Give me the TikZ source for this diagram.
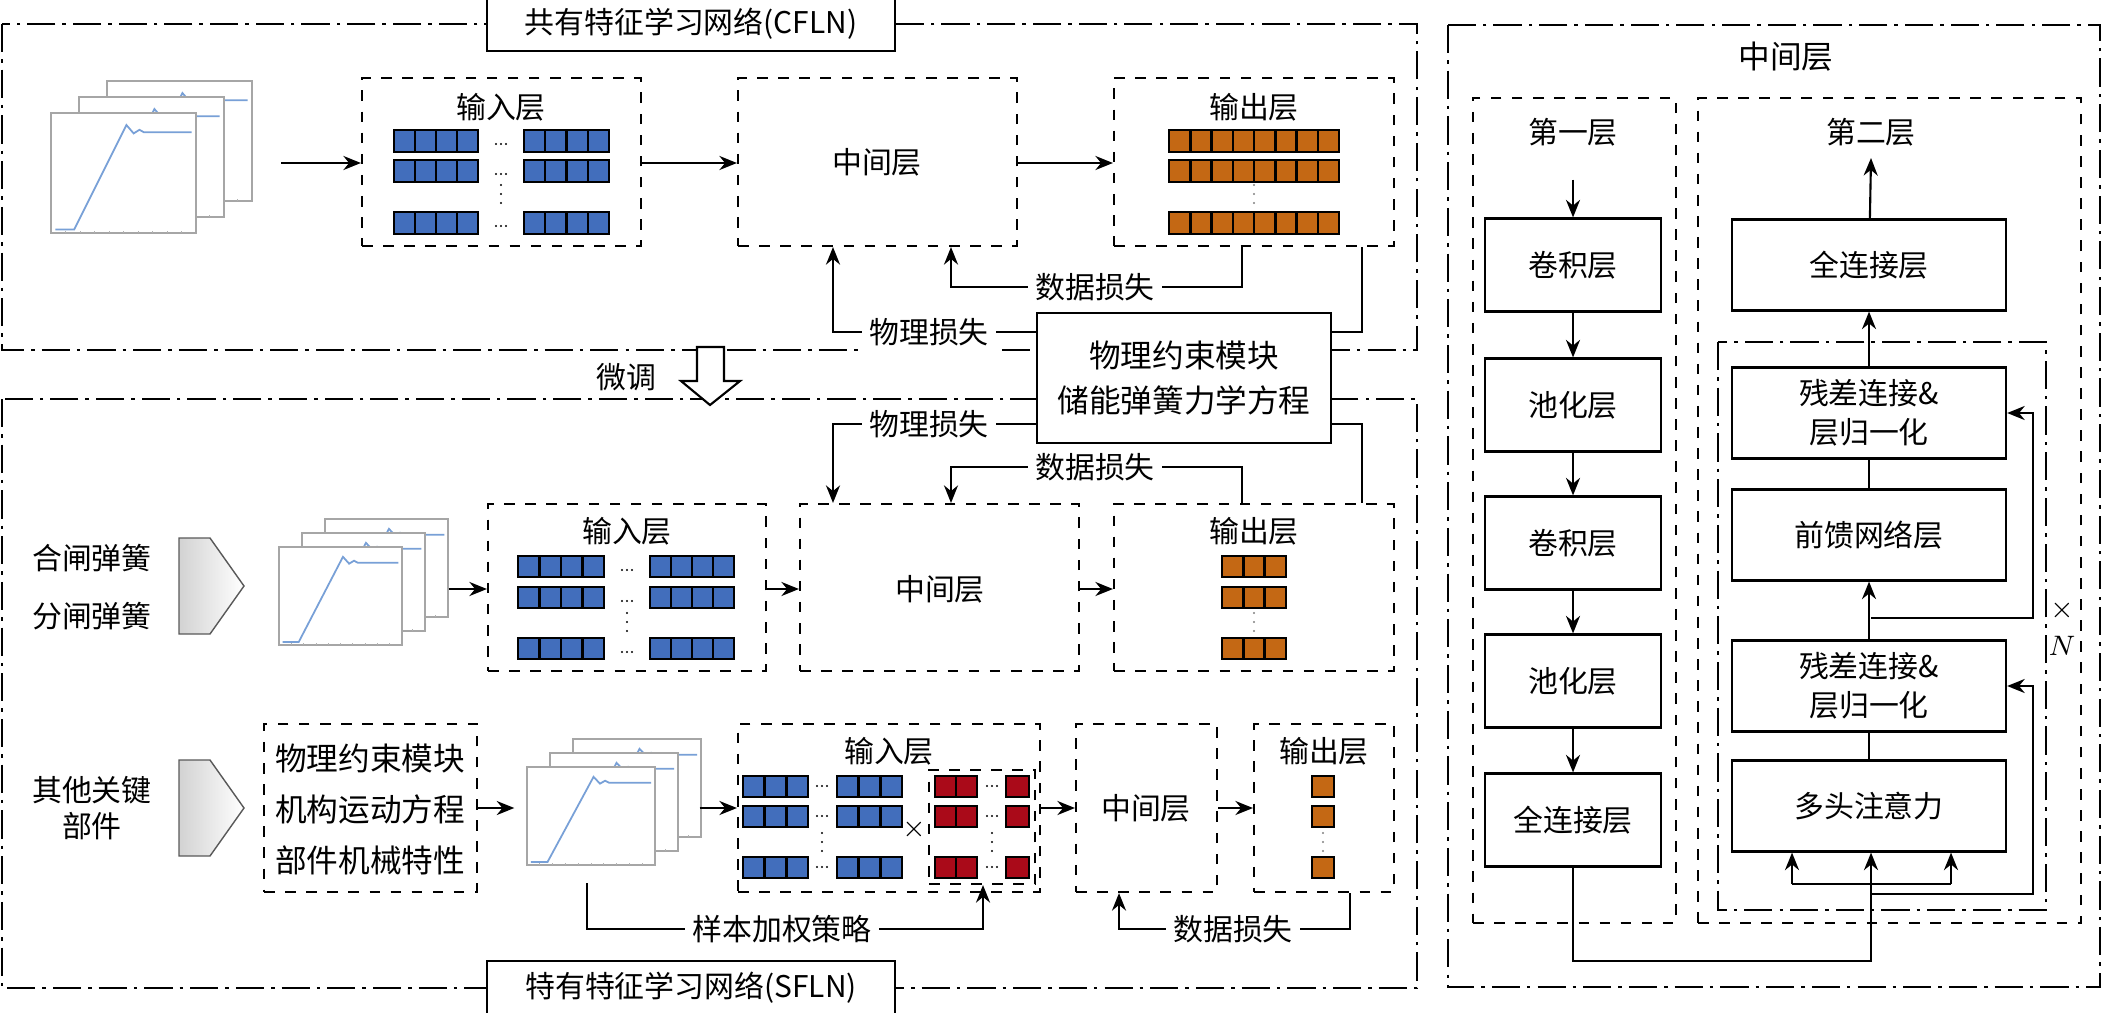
\documentclass[tikz,border=0pt]{standalone}
\usepackage{fontspec}
\setmainfont{Liberation Serif}
\newfontfamily\cjk{Noto Sans CJK SC}
\usepackage{tikz}
\usetikzlibrary{arrows.meta, positioning, fit, calc}
\definecolor{cell_blue}{RGB}{66, 110, 188}
\definecolor{cell_orange}{RGB}{196, 104, 20}
\definecolor{cell_red}{RGB}{170, 10, 25}
\definecolor{curve_blue}{RGB}{120, 160, 215}
% row of n cells: x, y(top), n, cell width, height, colour
\newcommand{\cellrow}[6]{%
  \foreach \i in {1,...,#3}
    \draw[fill=#6, line width=0.7pt] ({#1+(\i-1)*#4},#2) rectangle ++(#4,#5);}
% three small dots, across or down
\newcommand{\hdots}[2]{%
  \foreach \d in {-5,0,5} \fill ({#1+\d},#2) circle (1.1);}
\newcommand{\vdotsat}[3][black]{%
  \foreach \d in {-9,0,9} \fill[#1] (#2,{#3+\d}) circle (1.1);}
% stacked curve panels: x, y(top-left of front panel), w, h, dx, dy
\newcommand{\chartstack}[6]{%
  \foreach \k in {2,1,0}{
    \begin{scope}[shift={({#1+\k*#5},{#2-\k*#6})}, x=#3*0.01cm, y=-#4*0.01cm]
      \draw[gray!70, fill=white, line width=0.4pt] (0,0) rectangle (1,1);
      \draw[curve_blue, line width=0.5pt] (0.03,0.97) -- (0.16,0.97) -- (0.52,0.1)
        -- (0.57,0.17) -- (0.61,0.14) -- (0.64,0.16) -- (0.97,0.16);
      \foreach \t in {0.1,0.2,...,0.95}
        \draw[gray!60, line width=0.2pt] (\t,1) -- (\t,0.98);
    \end{scope}}}
\begin{document}
\begin{tikzpicture}[x=0.01cm, y=-0.01cm,
    every node/.style={font=\cjk\fontsize{8.5}{10}\selectfont},
    dbox/.style={draw, dashed, line width=0.6pt, inner sep=0pt},
    sbox/.style={draw, line width=0.6pt, fill=white, align=center},
    rbox/.style={draw, line width=0.6pt, minimum width=1.76cm, minimum height=0.93cm,
                 font=\cjk\fontsize{8.5}{11}\selectfont},
    wbox/.style={rbox, minimum width=2.74cm, minimum height=0.91cm, align=center},
    dashdot/.style={line width=0.6pt, dash pattern=on 8pt off 2pt on 1pt off 2pt},
    arr/.style={-{Stealth[length=5pt, width=4pt]}, line width=0.6pt},
    ln/.style={line width=0.6pt},
    lbl/.style={fill=white, inner sep=2pt},
  ]
  \useasboundingbox (0,0) rectangle (2107,1012);

  % frames
  \draw[dashdot] (2,24) rectangle (1417,350);
  \draw[dashdot] (2,399) rectangle (1417,988);
  \draw[dashdot] (1448,25) rectangle (2100,987);
  \node[sbox, minimum width=4.07cm, minimum height=0.46cm] (cfln) at (691,24)
    {共有特征学习网络(CFLN)};
  \node[sbox, minimum width=4.07cm, minimum height=0.46cm] (sfln) at (691,988)
    {特有特征学习网络(SFLN)};

  % ---- shared network
  \chartstack{51}{113}{145}{120}{28}{16}
  \node[fit={(41,78) (253,243)}, inner sep=0] (chart1) {};
  \node[dbox, fit={(362,78) (641,246)}] (in1) {};
  \node[dbox, fit={(738,78) (1017,246)}] (mid1) {};
  \node[dbox, fit={(1114,78) (1394,246)}] (out1) {};
  \node (in1t) at (501,107) {输入层};
  \node at (877,162) {中间层};
  \node (out1t) at (1254,107) {输出层};
  \foreach \y in {130,160,212}{
    \cellrow{394}{\y}{4}{21}{22}{cell_blue}
    \cellrow{524}{\y}{4}{21.25}{22}{cell_blue}
    \hdots{501}{\y+14}
    \cellrow{1169}{\y}{8}{21.25}{22}{cell_orange}}
  \vdotsat{501}{194}
  \vdotsat[gray]{1254}{194}
  \draw[arr] (281,163) -- (in1.west |- 0,163);
  \draw[arr] (in1.east |- 0,163) -- (mid1.west |- 0,163);
  \draw[arr] (mid1.east |- 0,163) -- (out1.west |- 0,163);

  \node[sbox, minimum width=2.93cm, minimum height=1.3cm, inner sep=1pt,
        font=\cjk\fontsize{9}{13}\selectfont] (phys) at (1184,378)
    {物理约束模块\\储能弹簧力学方程};
  \draw[arr] (out1.south -| 1242,0) |- (951,287) -- (mid1.south -| 951,0);
  \node[lbl] at (1095,287) {数据损失};
  \draw[arr] (phys.west |- 0,332) -| (mid1.south -| 833,0);
  \node[lbl] at (929,332) {物理损失};
  \draw[ln] (out1.south -| 1362,0) |- (phys.east |- 0,332);

  % fine tuning
  \draw[ln, fill=white] (697,347) -- (724,347) -- (724,381) -- (740,381)
    -- (710,405) -- (681,381) -- (697,381) -- cycle;
  \node at (626,377) {微调};

  % ---- specific network, row 1
  \draw[gray!70!black, left color=gray!35, right color=white]
    (179,538) -- (210,538) -- (244,586) -- (210,634) -- (179,634) -- cycle;
  \node (close) at (92,558) {合闸弹簧};
  \node (open) at (92,616) {分闸弹簧};
  \chartstack{279}{547}{123}{98}{23}{14}
  \node[fit={(271,519) (448,655)}, inner sep=0] (chart2) {};
  \node[dbox, fit={(488,504) (766,671)}] (in2) {};
  \node[dbox, fit={(800,504) (1079,671)}] (mid2) {};
  \node[dbox, fit={(1114,504) (1394,671)}] (out2) {};
  \node at (627,531) {输入层};
  \node at (940,589) {中间层};
  \node at (1254,531) {输出层};
  \foreach \y in {556,587,638}{
    \cellrow{518}{\y}{4}{21.5}{21}{cell_blue}
    \cellrow{650}{\y}{4}{21}{21}{cell_blue}
    \hdots{627}{\y+14}
    \cellrow{1222}{\y}{3}{21.3}{21}{cell_orange}}
  \vdotsat{627}{622}
  \vdotsat[gray]{1254}{622}
  \draw[arr] (chart2.east |- 0,589) -- (in2.west |- 0,589);
  \draw[arr] (in2.east |- 0,589) -- (mid2.west |- 0,589);
  \draw[arr] (mid2.east |- 0,589) -- (out2.west |- 0,589);

  \draw[arr] (phys.west |- 0,424) -| (mid2.north -| 833,0);
  \node[lbl] at (929,424) {物理损失};
  \draw[arr] (out2.north -| 1242,0) |- (951,467) -- (mid2.north -| 951,0);
  \node[lbl] at (1095,467) {数据损失};
  \draw[ln] (phys.east |- 0,424) -| (out2.north -| 1362,0);

  % ---- specific network, row 2
  \draw[gray!70!black, left color=gray!35, right color=white]
    (179,760) -- (210,760) -- (244,808) -- (210,856) -- (179,856) -- cycle;
  \node[align=center] (other) at (92,808) {其他关键\\部件};
  \node[dbox, fit={(264,724) (477,892)}] (phys2) {};
  \node[align=center, font=\cjk\fontsize{9}{14.5}\selectfont] at (370,809)
    {物理约束模块\\机构运动方程\\部件机械特性};
  \chartstack{527}{767}{128}{98}{23}{14}
  \node[fit={(515,738) (699,874)}, inner sep=0] (chart3) {};
  \node[dbox, fit={(738,724) (1040,892)}] (in3) {};
  \node[dbox, fit={(929,770) (1035,884)}] (red3) {};
  \node[dbox, fit={(1076,724) (1217,892)}] (mid3) {};
  \node[dbox, fit={(1254,724) (1394,892)}] (out3) {};
  \node at (889,751) {输入层};
  \node at (1146,808) {中间层};
  \node at (1324,751) {输出层};
  \foreach \y in {776,806,857}{
    \cellrow{743}{\y}{3}{21.7}{21}{cell_blue}
    \cellrow{837}{\y}{3}{21.7}{21}{cell_blue}
    \hdots{822}{\y+10}
    \cellrow{935}{\y}{2}{21}{21}{cell_red}
    \cellrow{1006}{\y}{1}{23}{21}{cell_red}
    \hdots{992}{\y+10}
    \cellrow{1312}{\y}{1}{22}{21}{cell_orange}}
  \vdotsat{822}{842}
  \vdotsat{992}{842}
  \vdotsat[gray]{1323}{842}
  \node[inner sep=0] at (914,829) {$\times$};
  \draw[arr] (phys2.east |- 0,808) -- (chart3.west |- 0,808);
  \draw[arr] (chart3.east |- 0,808) -- (in3.west |- 0,808);
  \draw[arr] (in3.east |- 0,808) -- (mid3.west |- 0,808);
  \draw[arr] (mid3.east |- 0,808) -- (out3.west |- 0,808);
  \draw[arr] (587,883) |- (983,929) -- (red3.south -| 983,0);
  \node[lbl] at (782,929) {样本加权策略};
  \draw[arr] (out3.south -| 1350,0) |- (1119,929) -- (mid3.south -| 1119,0);
  \node[lbl] at (1233,929) {数据损失};

  % ---- middle layer detail
  \node[font=\cjk\fontsize{9}{11}\selectfont] at (1786,57) {中间层};
  \node[dbox, fit={(1473,98) (1676,923)}] (first) {};
  \node[dbox, fit={(1698,98) (2081,923)}] (second) {};
  \draw[dashdot] (1718,342) rectangle (2046,910);
  \node[rbox, draw=none] (l1) at (1573,132) {第一层};
  \node[rbox] (conv1) at (1573,265) {卷积层};
  \node[rbox] (pool1) at (1573,405) {池化层};
  \node[rbox] (conv2) at (1573,543) {卷积层};
  \node[rbox] (pool2) at (1573,681) {池化层};
  \node[rbox] (fc1) at (1573,820) {全连接层};
  \draw[arr] (l1) -- (conv1);
  \draw[arr] (conv1) -- (pool1);
  \draw[arr] (pool1) -- (conv2);
  \draw[arr] (conv2) -- (pool2);
  \draw[arr] (pool2) -- (fc1);

  \node[rbox, draw=none] (l2) at (1871,132) {第二层};
  \node[wbox] (fc2) at (1869,265) {全连接层};
  \node[wbox] (res1) at (1869,413) {残差连接\&\\层归一化};
  \node[wbox] (ffn) at (1869,535) {前馈网络层};
  \node[wbox] (res2) at (1869,686) {残差连接\&\\层归一化};
  \node[wbox] (mha) at (1869,806) {多头注意力};
  \coordinate (top) at (1871,158);
  \draw[arr] (fc2) -- (top);
  \draw[arr] (res1) -- (fc2);
  \draw[ln] (ffn) -- (res1);
  \draw[arr] (res2) -- (ffn);
  \draw[ln] (mha) -- (res2);
  \node[inner sep=0] (times) at (2062,610) {$\times$};
  \node[inner sep=0] (repN) at (2062,646) {$N$};
  \coordinate (skip1) at (1871,618);
  \coordinate (skip2) at (1871,894);
  \draw[arr] (skip1) -- (2033,618) |- (res1.east);
  \draw[arr] (skip2) -- (2033,894) |- (res2.east);
  \draw[arr] (fc1.south) |- (1871,961) -- (mha.south -| 1871,0);
  \draw[ln] (1792,884) -- (1951,884);
  \draw[arr] (1792,884) -- (mha.south -| 1792,0);
  \draw[arr] (1951,884) -- (mha.south -| 1951,0);
\end{tikzpicture}
\end{document}
